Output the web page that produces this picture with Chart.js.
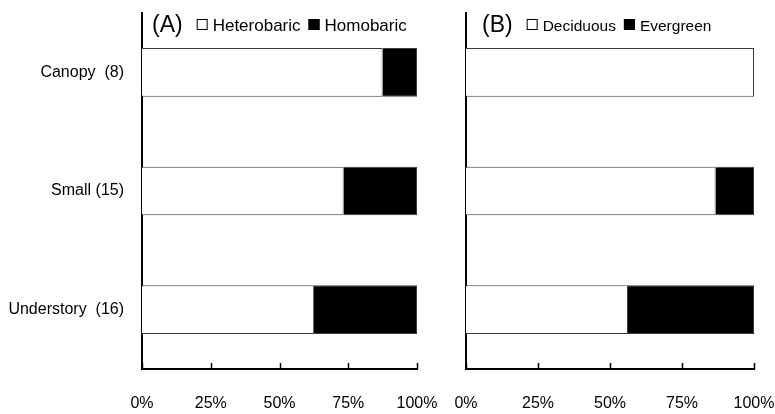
<!DOCTYPE html>
<html>
<head>
<meta charset="utf-8">
<script src="https://cdn.jsdelivr.net/npm/chart.js@4/dist/chart.umd.min.js"></script>
<style>
  html, body { margin: 0; padding: 0; background: #fff; }
  #wrap { position: relative; width: 775px; height: 414px; }
  #ca { position: absolute; left: 0; top: 0; }
  #cb { position: absolute; left: 440px; top: 0; }
</style>
</head>
<body>
<div id="wrap">
  <canvas id="ca" width="440" height="414"></canvas>
  <canvas id="cb" width="335" height="414"></canvas>
</div>
<script>
// ---- data ----
const categories = ["Canopy  (8)", "Small (15)", "Understory  (16)"];
const heterobaric = [87.5, 73.33, 62.5];
const homobaric = [12.5, 26.67, 37.5];
const deciduous = [100, 86.67, 56.25];
const evergreen = [0, 13.33, 43.75];
const xTicks = [0, 25, 50, 75, 100];
const panelA = "(A)";
const panelB = "(B)";

const FONT = "'Liberation Sans Narrow', 'Liberation Sans', Arial, sans-serif";

// inward x tick marks
const innerTicks = {
  id: 'innerTicks',
  afterDraw(chart) {
    const ctx = chart.ctx, x = chart.scales.x, bottom = chart.chartArea.bottom;
    ctx.save();
    ctx.strokeStyle = '#000';
    ctx.lineWidth = 1.5;
    xTicks.forEach(v => {
      const px = Math.round(x.getPixelForValue(v)) + 0.5;
      ctx.beginPath();
      ctx.moveTo(px, bottom);
      ctx.lineTo(px, bottom - 6);
      ctx.stroke();
    });
    ctx.restore();
  }
};

// panel label + legend on one line
const panelLegend = {
  id: 'panelLegend',
  afterDraw(chart, args, opts) {
    const ctx = chart.ctx;
    ctx.save();
    ctx.fillStyle = '#000';
    ctx.textBaseline = 'alphabetic';
    ctx.font = '23px ' + FONT;
    let x = opts.x;
    const base = 32;
    ctx.fillText(opts.label, x, base);
    x += ctx.measureText(opts.label).width + 14;
    ctx.font = opts.size + 'px ' + FONT;
    chart.data.datasets.forEach(ds => {
      const s = 11;
      const by = base - 13;
      ctx.fillStyle = ds.backgroundColor;
      ctx.fillRect(x, by, s, s);
      ctx.strokeStyle = '#000';
      ctx.lineWidth = 1;
      ctx.strokeRect(x + 0.5, by + 0.5, s - 1, s - 1);
      x += s + 5;
      ctx.fillStyle = '#000';
      ctx.fillText(ds.label, x, base - 1);
      x += ctx.measureText(ds.label).width + 8;
    });
    ctx.restore();
  }
};

function zeroPad(scale) {
  scale.paddingTop = 0; scale.paddingBottom = 0;
  scale.paddingLeft = 0; scale.paddingRight = 0;
}

function makeChart(id, names, a, b, opts) {
  return new Chart(document.getElementById(id), {
    type: 'bar',
    data: {
      labels: categories,
      datasets: [
        { label: names[0], data: a, backgroundColor: '#ffffff', borderColor: '#3a3a3a', borderWidth: 1,
          categoryPercentage: 0.41, barPercentage: 1 },
        { label: names[1], data: b, backgroundColor: '#000000', borderColor: '#3a3a3a', borderWidth: 1,
          categoryPercentage: 0.41, barPercentage: 1 }
      ]
    },
    plugins: [innerTicks, panelLegend],
    options: {
      indexAxis: 'y',
      responsive: false,
      animation: false,
      layout: { padding: { left: 0, right: opts.right, top: 13, bottom: 0 } },
      plugins: {
        legend: { display: false },
        tooltip: { enabled: false },
        panelLegend: { label: opts.label, x: opts.legendX, size: opts.legendSize }
      },
      scales: {
        x: {
          stacked: true, min: 0, max: 100,
          afterBuildTicks(scale) { scale.ticks = xTicks.map(v => ({ value: v })); },
          ticks: { callback: v => v + '%', color: '#000', padding: 25, maxRotation: 0,
                   font: { family: FONT, size: 16 } },
          grid: { display: false, drawTicks: false },
          border: { display: true, color: '#000', width: 2 },
          afterFit(scale) { scale.height = 45; zeroPad(scale); }
        },
        y: {
          stacked: true,
          ticks: { display: opts.showY, color: '#000', padding: 18,
                   font: { family: FONT, size: 16 } },
          grid: { display: false, drawTicks: false },
          border: { display: true, color: '#000', width: 2 },
          afterFit(scale) { scale.width = opts.yWidth; zeroPad(scale); }
        }
      }
    }
  });
}

makeChart('ca', ['Heterobaric', 'Homobaric'], heterobaric, homobaric,
  { right: 23, yWidth: 142, showY: true, label: panelA, legendX: 152, legendSize: 17 });
makeChart('cb', ['Deciduous', 'Evergreen'], deciduous, evergreen,
  { right: 21, yWidth: 26, showY: false, label: panelB, legendX: 42, legendSize: 15.5 });
</script>
</body>
</html>
